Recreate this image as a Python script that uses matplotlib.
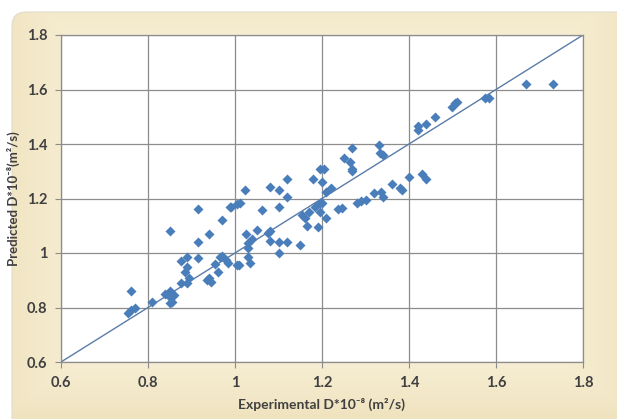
import numpy as np
import matplotlib.pyplot as plt
from matplotlib.patches import FancyBboxPatch

# experimental vs predicted diffusion coefficients (D*10^-8 m2/s)
exp_d = [0.76, 0.76, 0.755, 0.77, 0.81, 0.84, 0.85, 0.855, 0.85, 0.85,
         0.86, 0.85, 0.875, 0.89, 0.895, 0.885, 0.89, 0.875, 0.89, 0.915,
         0.915, 0.94, 0.915, 0.97, 0.99, 1.005, 0.94, 0.945, 0.935, 0.96,
         0.965, 0.98, 1.005, 0.985, 1.01, 1.035, 0.97, 0.955, 1.03, 1.04,
         1.03, 1.025, 1.05, 1.075, 1.08, 1.08, 1.10, 1.12, 1.15, 1.10,
         1.03, 1.011, 1.023, 0.988, 1.062, 1.08, 1.10, 1.12, 1.12, 1.10,
         1.165, 1.155, 1.19, 1.21, 1.16, 1.17, 1.185, 1.195, 1.18, 1.195,
         1.205, 1.20, 1.22, 1.21, 1.20, 1.195, 1.237, 1.246, 1.25, 1.265,
         1.27, 1.27, 1.27, 1.28, 1.29, 1.30, 1.32, 1.34, 1.335, 1.33,
         1.333, 1.34, 1.36, 1.38, 1.385, 1.40, 1.43, 1.44, 1.42, 1.42,
         1.44, 1.46, 1.50, 1.505, 1.51, 1.575, 1.585, 1.67, 1.73]
pred_d = [0.86, 0.79, 0.78, 0.80, 0.82, 0.85, 0.84, 0.82, 0.815, 0.86,
          0.845, 1.08, 0.89, 0.89, 0.91, 0.93, 0.95, 0.97, 0.985, 0.98,
          1.04, 1.07, 1.16, 1.12, 1.17, 1.18, 0.91, 0.895, 0.90, 0.93,
          0.985, 0.975, 0.955, 0.965, 0.955, 0.965, 0.99, 0.96, 1.035, 1.05,
          1.02, 1.07, 1.085, 1.075, 1.08, 1.045, 1.04, 1.04, 1.03, 1.0,
          0.985, 1.183, 1.23, 1.17, 1.158, 1.242, 1.23, 1.27, 1.205, 1.17,
          1.10, 1.14, 1.095, 1.13, 1.13, 1.15, 1.17, 1.185, 1.27, 1.31,
          1.31, 1.26, 1.24, 1.225, 1.185, 1.15, 1.16, 1.165, 1.35, 1.335,
          1.385, 1.31, 1.30, 1.183, 1.19, 1.195, 1.22, 1.205, 1.225, 1.395,
          1.367, 1.36, 1.255, 1.24, 1.23, 1.28, 1.29, 1.27, 1.465, 1.45,
          1.475, 1.50, 1.535, 1.55, 1.555, 1.57, 1.57, 1.62, 1.62]
ticks = [0.6, 0.8, 1.0, 1.2, 1.4, 1.6, 1.8]
tick_labels = ['0.6', '0.8', '1', '1.2', '1.4', '1.6', '1.8']

plt.rcParams['font.family'] = ['Lato', 'DejaVu Sans']

fig = plt.figure(figsize=(6.17, 4.19), dpi=100)
fig.patch.set_facecolor('white')

# beige rounded frame with a soft gradient behind the plot
bg = fig.add_axes([0, 0, 1, 1], zorder=-5)
bg.set_xlim(0, 617)
bg.set_ylim(419, 0)
bg.axis('off')
frame = FancyBboxPatch((12, 12), 640, 440, boxstyle='round,pad=0,rounding_size=14',
                       facecolor='none', edgecolor='#e2dccd', lw=0.8)
bg.add_patch(frame)
yy, xx = np.mgrid[0:419, 0:617]
dist = np.maximum(np.abs(xx - 320) / 320.0, np.abs(yy - 200) / 215.0)
grad = np.clip(dist, 0, 1) ** 2.5
c0 = np.array([0.99, 0.97, 0.90])
c1 = np.array([0.94, 0.89, 0.75])
img = c0 + (c1 - c0) * grad[..., None]
im = bg.imshow(img, extent=(0, 617, 419, 0), aspect='auto')
im.set_clip_path(frame)

ax = fig.add_axes([61 / 617, 1 - 362 / 419, 522 / 617, 327 / 419])
ax.set_facecolor('white')

ax.plot([0.6, 1.8], [0.6, 1.8], color='#5a7ca8', lw=1.0, zorder=2)
ax.scatter(exp_d, pred_d, marker='D', s=26, color='#4a7ebb', zorder=3, linewidths=0)

ax.set_xlim(0.6, 1.8)
ax.set_ylim(0.6, 1.8)
ax.set_xticks(ticks)
ax.set_xticklabels(tick_labels)
ax.set_yticks(ticks)
ax.set_yticklabels(tick_labels)
ax.grid(True, color='#8c8c8c', lw=0.9)
ax.set_axisbelow(True)
for side in ax.spines.values():
    side.set_color('#8c8c8c')
    side.set_linewidth(0.9)
ax.tick_params(length=4, color='#8c8c8c', labelsize=10.5, labelcolor='#404040', pad=6)
for lbl in ax.get_xticklabels() + ax.get_yticklabels():
    lbl.set_fontweight('bold')

ax.set_xlabel('Experimental D*10⁻⁸ (m²/s)', fontsize=10, fontweight='bold',
              color='#404040', labelpad=6)
ax.set_ylabel('Predicted D*10⁻⁸(m²/s)', fontsize=9.5, fontweight='bold',
              color='#404040', labelpad=5)

plt.savefig('out.png', dpi=100, facecolor=fig.get_facecolor())
